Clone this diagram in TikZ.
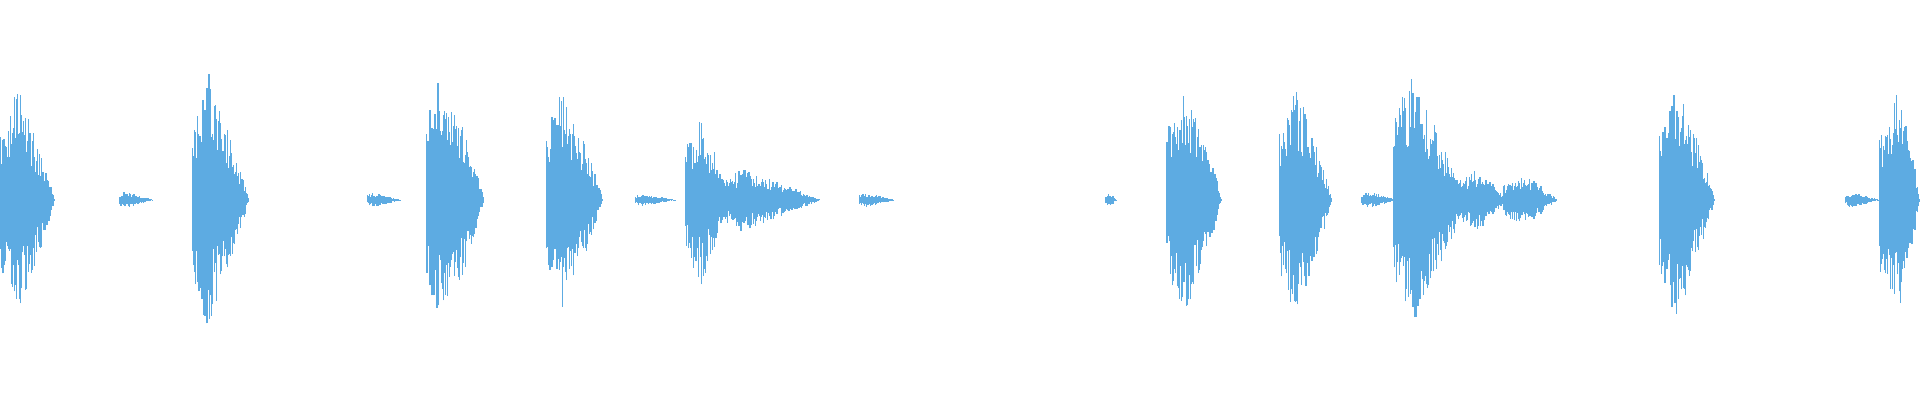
\documentclass[tikz,border=0pt]{standalone}
\usepackage{tikz}

\definecolor{wave}{RGB}{93,171,226}
\tikzset{sample/.style={draw=wave,line width=0.35pt}}

% one burst: start, peak, end, amplitude
\newcommand{\burst}[4]{%
  \pgfmathsetmacro{\nxt}{#1+0.8}
  \foreach \x in {#1,\nxt,...,#3}{%
    \pgfmathsetmacro{\env}{\x<#2 ? #4*(0.6+0.4*(\x-#1)/(#2-#1+0.01)) : #4*pow(max(0,(#3-\x)/(#3-#2)),0.9)}
    \pgfmathsetmacro{\up}{\env*(0.45+0.6*rnd)}
    \pgfmathsetmacro{\dn}{\env*(0.45+0.6*rnd)}
    \draw[sample] (\x,163.4-\dn) -- (\x,163.4+\up);
  }%
}

\begin{document}
\begin{tikzpicture}[x=0.012245cm,y=0.012245cm]
    \useasboundingbox (0,0) rectangle (1568,326.7);
    \pgfmathsetseed{7}

    % syllables
    \burst{0}{15}{45}{88}
    \burst{98}{102}{125}{7}
    \burst{157}{170}{203}{100}
    \burst{300}{303}{328}{6}
    \burst{348}{362}{395}{106}
    \burst{446}{460}{492}{90}
    \burst{519}{523}{552}{5}
    \burst{560}{572}{595}{68}
    \burst{590}{605}{670}{25}
    \burst{702}{706}{730}{6}
    \burst{903}{906}{912}{6}
    \burst{953}{968}{998}{92}
    \burst{1045}{1057}{1088}{95}
    \burst{1112}{1116}{1140}{7}
    \burst{1138}{1152}{1198}{100}
    \burst{1192}{1208}{1230}{25}
    \burst{1228}{1245}{1272}{20}
    \burst{1355}{1370}{1400}{95}
    \burst{1507}{1511}{1535}{6}
    \burst{1535}{1550}{1568}{90}
\end{tikzpicture}
\end{document}
